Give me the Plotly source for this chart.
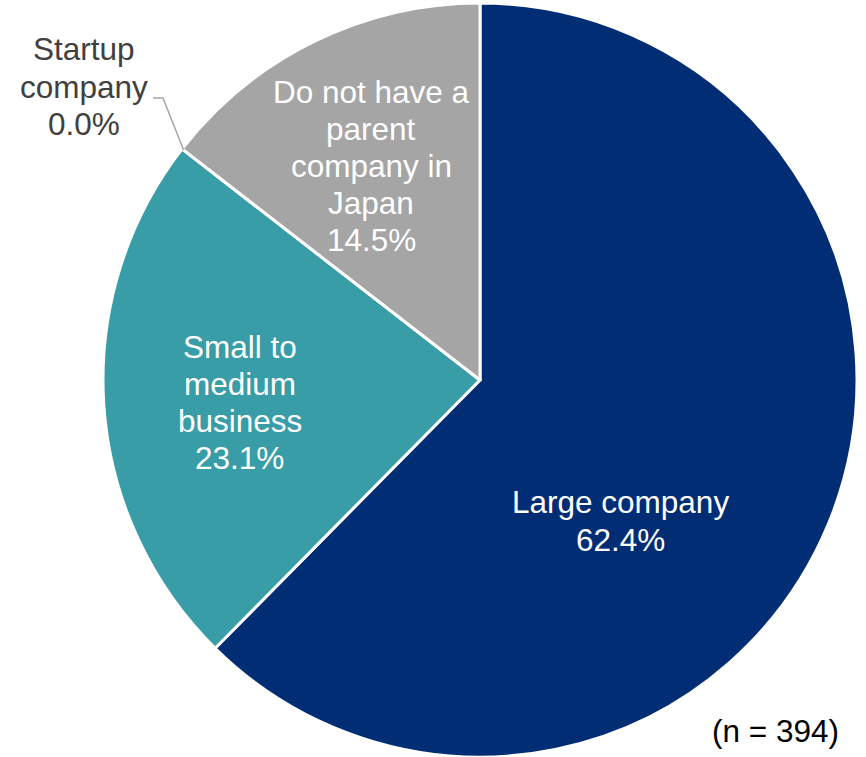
import math
import plotly.graph_objects as go

# Survey breakdown: type of parent company in Japan
labels = ["Large company", "Small to medium business", "Startup company",
          "Do not have a parent company in Japan"]
values = [62.4, 23.1, 0.0, 14.5]
colors = ["#002D74", "#389DA7", "#A5A5A5", "#A5A5A5"]
n_total = 394

# How each label is broken over lines on the chart
label_lines = [
    ["Large company"],
    ["Small to", "medium", "business"],
    ["Startup", "company"],
    ["Do not have a", "parent", "company in", "Japan"],
]

W, H = 866, 757
CX, CY, R = 480, 380, 375          # pie centre and radius in pixels
PAD = 2                            # plotly trims the pie a touch inside its domain
FS = 31.5                          # label font size
FONT = "Liberation Sans, Arial, sans-serif"

def px(x):
    return x / W

def py(y):
    return 1 - y / H

fig = go.Figure(go.Pie(
    labels=labels,
    values=values,
    marker=dict(colors=colors, line=dict(color="white", width=3)),
    sort=False,
    direction="clockwise",
    rotation=0,
    textinfo="none",
    hoverinfo="label+percent",
    showlegend=False,
    domain=dict(x=[px(CX - R - PAD), px(CX + R + PAD)],
                y=[max(0, py(CY + R + PAD)), min(1, py(CY - R - PAD))]),
))

# label blocks: (centre x, first baseline, line step, text colour)
blocks = [
    (620, 513, 38, "white"),
    (240, 358, 37, "white"),
    (84, 60, 37.5, "#404040"),
    (371, 103, 37, "white"),
]

annotations = []
for lines, val, (x0, base0, step, col) in zip(label_lines, values, blocks):
    rows = lines + [f"{val:.1f}%"]
    for i, row in enumerate(rows):
        base = base0 + i * step
        annotations.append(dict(
            x=px(x0), y=py(base - 11), xref="paper", yref="paper",
            text=row, showarrow=False, xanchor="center", yanchor="middle",
            font=dict(family=FONT, size=FS, color=col),
        ))

annotations.append(dict(
    x=px(775), y=py(742 - 11), xref="paper", yref="paper",
    text=f"(n = {n_total})", showarrow=False, xanchor="center", yanchor="middle",
    font=dict(family=FONT, size=FS, color="black"),
))

# leader line to the startup slice, ending on the rim at its start angle
frac = sum(values[:2]) / sum(values)
ang = 2 * math.pi * frac
ex = CX + R * math.sin(ang)
ey = CY - R * math.cos(ang)
leader = [(153, 98), (163, 98), (ex, ey)]
path = "M " + " L ".join(f"{px(x)},{py(y)}" for x, y in leader)

fig.update_layout(
    width=W, height=H,
    margin=dict(l=0, r=0, t=0, b=0),
    paper_bgcolor="white",
    plot_bgcolor="white",
    annotations=annotations,
    shapes=[dict(type="path", path=path, xref="paper", yref="paper",
                 line=dict(color="#A5A5A5", width=1.5))],
)

fig.write_html("out.html")
